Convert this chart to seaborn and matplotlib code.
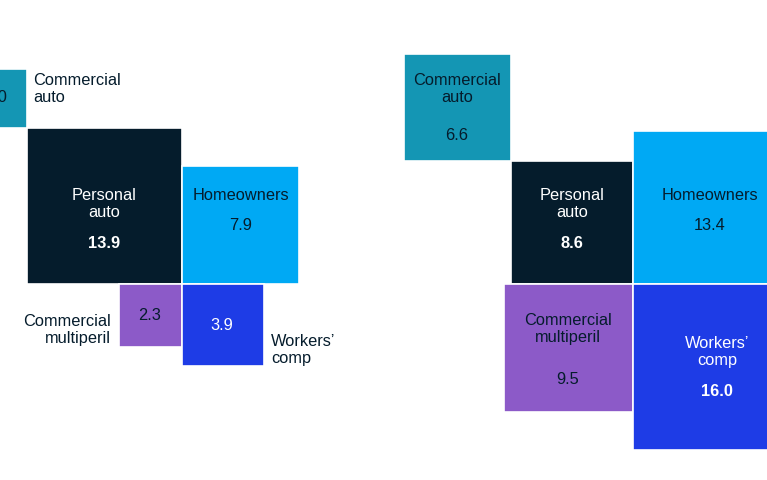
import matplotlib
matplotlib.use("Agg")
import matplotlib.pyplot as plt
from matplotlib.patches import Rectangle
import seaborn as sns
import numpy as np

# data: two snapshots of the same five lines of business
lines = ["Commercial auto", "Personal auto", "Homeowners",
         "Commercial multiperil", "Workers' comp"]
labels = ["Commercial\nauto", "Personal\nauto", "Homeowners",
          "Commercial\nmultiperil", "Workers’\ncomp"]
left_values = [2.0, 13.9, 7.9, 2.3, 3.9]
right_values = [6.6, 8.6, 13.4, 9.5, 16.0]

colors = ["#1496b4", "#051c2c", "#00a9f4", "#8c5ac8", "#1e3ce6"]
text_dark = "#051c2c"
text_colors = [text_dark, "white", text_dark, text_dark, "white"]

sns.set_theme(style="white")
plt.rcParams["font.family"] = ["Liberation Sans", "DejaVu Sans"]

W, H = 767, 480
fig = plt.figure(figsize=(W / 100, H / 100), dpi=100)
ax = fig.add_axes([0, 0, 1, 1])
ax.set_xlim(0, W)
ax.set_ylim(H, 0)
ax.axis("off")

PX_PER_ROOT = 41.7  # square side = k * sqrt(value), so area ~ value
FS = 11.8


def square_boxes(values, cx, cy):
    s = [PX_PER_ROOT * np.sqrt(v) for v in values]
    boxes = [
        (cx - s[1] - s[0], cy - s[1] - s[0], s[0]),  # commercial auto, off the corner
        (cx - s[1], cy - s[1], s[1]),                # personal auto
        (cx, cy - s[2], s[2]),                       # homeowners
        (cx - s[3], cy, s[3]),                       # commercial multiperil
        (cx, cy, s[4]),                              # workers' comp
    ]
    return boxes


def draw_group(values, cx, cy, label_pos, value_pos, label_ha, bold):
    for i, (x, y, s) in enumerate(square_boxes(values, cx, cy)):
        ax.add_patch(Rectangle((x, y), s, s, facecolor=colors[i],
                               edgecolor="white", linewidth=1.2))
        lx, ly, inside = label_pos[i]
        ax.text(lx, ly, labels[i], ha=label_ha[i], va="center", fontsize=FS,
                color=text_colors[i] if inside else text_dark, linespacing=1.2)
        vx, vy = value_pos[i]
        ax.text(vx, vy, f"{values[i]:.1f}", ha="center", va="center", fontsize=FS,
                color=text_colors[i], fontweight="bold" if bold[i] else "normal")


# left snapshot
draw_group(
    left_values, 182, 283.5,
    label_pos=[(33, 89, False), (104, 204, True), (241, 195, True),
               (111, 330, False), (271, 350, False)],
    value_pos=[(-4, 98), (104, 243), (241, 226), (150, 315), (222, 325)],
    label_ha=["left", "center", "center", "right", "left"],
    bold=[False, True, False, False, False],
)

# right snapshot
draw_group(
    right_values, 633, 283.5,
    label_pos=[(457, 89, True), (572, 204, True), (710, 195, True),
               (568, 329, True), (717, 352, True)],
    value_pos=[(457, 136), (572, 244), (710, 226), (568, 380), (717, 391)],
    label_ha=["center"] * 5,
    bold=[False, True, False, False, True],
)

fig.savefig("out.png", dpi=100, facecolor="white")
